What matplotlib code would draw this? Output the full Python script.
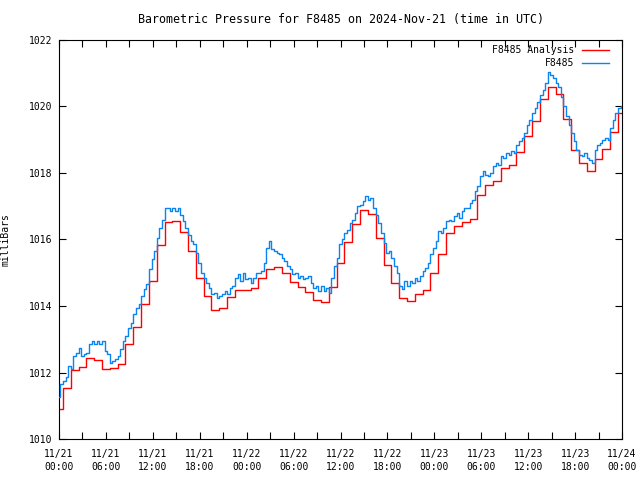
#Importing necessary libraries
import matplotlib
matplotlib.use("Agg")
import matplotlib.pyplot as plt
import matplotlib.dates as mdates
import pandas as pd

# Hourly analysis values (mb), 11/21 00:00 .. 11/24 00:00
analysis = [
  1010.89, 1011.52, 1012.08, 1012.16, 1012.43, 1012.37, 1012.10, 1012.15,
  1012.26, 1012.85, 1013.38, 1014.05, 1014.75, 1015.83, 1016.52, 1016.55,
  1016.23, 1015.64, 1014.83, 1014.29, 1013.88, 1013.94, 1014.26, 1014.48,
  1014.48, 1014.53, 1014.83, 1015.10, 1015.16, 1014.98, 1014.71, 1014.58,
  1014.41, 1014.18, 1014.12, 1014.56, 1015.28, 1015.92, 1016.48, 1016.88,
  1016.78, 1016.04, 1015.22, 1014.68, 1014.23, 1014.14, 1014.36, 1014.47,
  1015.00, 1015.56, 1016.19, 1016.41, 1016.53, 1016.63, 1017.34, 1017.63,
  1017.76, 1018.14, 1018.24, 1018.64, 1019.11, 1019.57, 1020.22, 1020.58,
  1020.39, 1019.62, 1018.69, 1018.29, 1018.07, 1018.42, 1018.71, 1019.24,
  1019.80,
]

# Station observations every 20 minutes (3 per hour)
station = [
  1011.25, 1011.65, 1011.73,  1011.85, 1012.20, 1012.10,
  1012.50, 1012.60, 1012.75,  1012.50, 1012.55, 1012.60,
  1012.85, 1012.95, 1012.85,  1012.95, 1012.85, 1012.95,
  1012.65, 1012.55, 1012.30,  1012.35, 1012.42, 1012.50,
  1012.70, 1012.95, 1013.10,  1013.35, 1013.50, 1013.75,
  1013.95, 1014.05, 1014.30,  1014.50, 1014.65, 1015.10,
  1015.40, 1015.65, 1016.05,  1016.35, 1016.60, 1016.95,
  1016.95, 1016.85, 1016.95,  1016.85, 1016.95, 1016.75,
  1016.55, 1016.35, 1016.15,  1015.95, 1015.85, 1015.60,
  1015.30, 1015.00, 1014.85,  1014.70, 1014.55, 1014.35,
  1014.40, 1014.25, 1014.30,  1014.35, 1014.45, 1014.35,
  1014.55, 1014.60, 1014.85,  1014.95, 1014.75, 1015.00,
  1014.80, 1014.85, 1014.70,  1014.85, 1015.00, 1015.00,
  1015.05, 1015.30, 1015.75,  1015.95, 1015.70, 1015.65,
  1015.60, 1015.55, 1015.45,  1015.35, 1015.20, 1015.10,
  1014.95, 1015.00, 1014.85,  1014.90, 1014.80, 1014.85,
  1014.90, 1014.70, 1014.55,  1014.60, 1014.45, 1014.60,
  1014.45, 1014.55, 1014.40,  1014.85, 1015.20, 1015.45,
  1015.85, 1016.00, 1016.20,  1016.30, 1016.50, 1016.60,
  1016.80, 1017.00, 1017.05,  1017.15, 1017.30, 1017.20,
  1017.25, 1016.95, 1016.75,  1016.50, 1016.20, 1015.90,
  1015.60, 1015.65, 1015.45,  1015.20, 1015.00, 1014.60,
  1014.50, 1014.75, 1014.60,  1014.75, 1014.70, 1014.85,
  1014.75, 1014.90, 1015.05,  1015.15, 1015.30, 1015.55,
  1015.75, 1015.95, 1016.25,  1016.20, 1016.35, 1016.55,
  1016.60, 1016.55, 1016.70,  1016.80, 1016.65, 1016.85,
  1016.95, 1016.95, 1017.10,  1017.20, 1017.45, 1017.60,
  1017.90, 1018.05, 1017.95,  1017.90, 1018.00, 1018.20,
  1018.30, 1018.25, 1018.50,  1018.45, 1018.60, 1018.55,
  1018.65, 1018.60, 1018.85,  1018.95, 1019.05, 1019.20,
  1019.45, 1019.60, 1019.80,  1019.95, 1020.15, 1020.35,
  1020.50, 1020.70, 1021.05,  1020.95, 1020.85, 1020.70,
  1020.60, 1020.30, 1020.00,  1019.70, 1019.45, 1019.20,
  1018.95, 1018.70, 1018.55,  1018.50, 1018.60, 1018.45,
  1018.40, 1018.30, 1018.70,  1018.85, 1018.90, 1019.00,
  1019.05, 1019.00, 1019.35,  1019.60, 1019.80, 1019.95,
  1020.00,
]

start = "2024-11-21 00:00"
analysis_times = pd.date_range(start, periods=len(analysis), freq="60min")
station_times = pd.date_range(start, periods=len(station), freq="20min")

font = "DejaVu Sans Mono"
plt.rcParams["font.family"] = font
plt.rcParams["font.size"] = 7

fig = plt.figure(figsize=(6.4, 4.8), dpi=100)
ax = fig.add_axes([0.0922, 0.0854, 0.8797, 0.8313])

ax.plot(analysis_times, analysis, color="#ff0000", lw=1.0, drawstyle="steps-mid",
        label="F8485 Analysis", zorder=2)
ax.plot(station_times, station, color="#0a84f0", lw=1.0, drawstyle="steps-mid",
        label="F8485", zorder=3)

ax.set_xlim(pd.Timestamp("2024-11-21 00:00"), pd.Timestamp("2024-11-24 00:00"))
ax.set_ylim(1010, 1022)
ax.set_yticks(range(1010, 1023, 2))

ax.xaxis.set_major_locator(mdates.HourLocator(byhour=[0, 6, 12, 18]))
ax.xaxis.set_minor_locator(mdates.HourLocator(byhour=[3, 9, 15, 21]))
ax.xaxis.set_major_formatter(mdates.DateFormatter("%m/%d\n%H:%M"))

ax.tick_params(which="both", direction="in", top=True, right=True, width=0.8)
ax.tick_params(which="major", length=5)
ax.tick_params(which="minor", length=5)
ax.tick_params(axis="x", pad=7)
ax.tick_params(axis="y", pad=5)
for lbl in ax.get_xticklabels():
  lbl.set_linespacing(1.45)

for sp in ax.spines.values():
  sp.set_linewidth(0.8)

ax.set_ylabel("milliBars")
ax.yaxis.set_label_coords(-0.087, 0.5)
ax.set_title("Barometric Pressure for F8485 on 2024-Nov-21 (time in UTC)", pad=12)

ax.legend(loc="upper right", bbox_to_anchor=(0.977, 0.987), frameon=False,
          markerfirst=False, handlelength=2.8, handletextpad=0.8,
          labelspacing=0.3, borderpad=0, borderaxespad=0)

plt.savefig("out.png", dpi=100)
